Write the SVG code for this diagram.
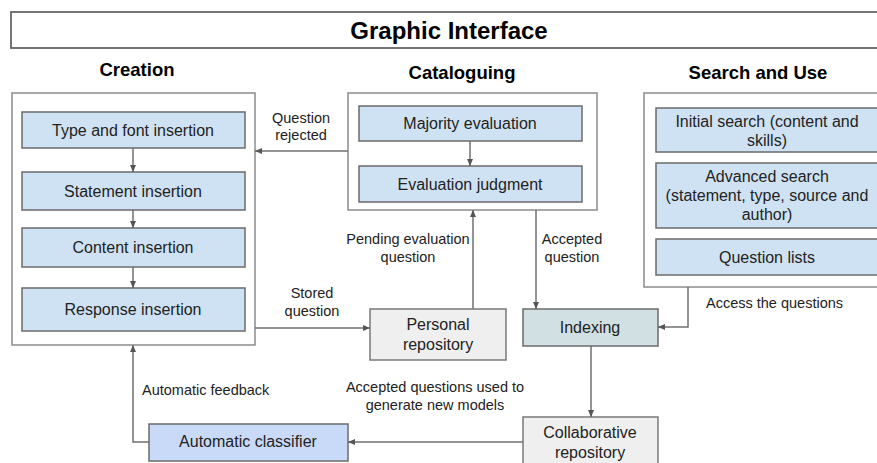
<svg xmlns="http://www.w3.org/2000/svg" width="877" height="463" viewBox="0 0 877 463">
  <style>
    .frame { fill: #ffffff; stroke: #8c8c8c; stroke-width: 1.5; }
    .title-frame { fill: #ffffff; stroke: #666666; stroke-width: 1.8; }
    .step { fill: #cfe2f3; stroke: #6b6b6b; stroke-width: 1.5; }
    .repo { fill: #efefef; stroke: #7a7a7a; stroke-width: 1.5; }
    .index { fill: #d0e0e3; stroke: #6b6b6b; stroke-width: 1.5; }
    .classifier { fill: #c9daf8; stroke: #6b6b6b; stroke-width: 1.5; }
    text { font-family: "Liberation Sans", Arial, sans-serif; fill: #222222; }
    .title { font-size: 24px; font-weight: bold; text-anchor: middle; fill: #000000; }
    .heading { font-size: 18.5px; font-weight: bold; text-anchor: middle; fill: #000000; }
    .node-text { font-size: 16px; text-anchor: middle; }
    .label { font-size: 14.5px; text-anchor: middle; }
    .label-start { font-size: 14.5px; text-anchor: start; }
    .conn { fill: none; stroke: #707070; stroke-width: 1.5; marker-end: url(#arrow); }
  </style>
  <defs>
    <marker id="arrow" markerUnits="userSpaceOnUse" markerWidth="8" markerHeight="8" viewBox="0 0 8 8" refX="7" refY="4" orient="auto">
      <path d="M0,1 L7,4 L0,7 z" fill="#555555"/>
    </marker>
  </defs>

  <!-- header bar -->
  <g id="graphic-interface">
    <rect class="title-frame" x="11" y="12" width="900" height="36"/>
    <text class="title" x="449" y="39">Graphic Interface</text>
  </g>

  <!-- section headings -->
  <text class="heading" x="137" y="76">Creation</text>
  <text class="heading" x="462" y="79">Cataloguing</text>
  <text class="heading" x="758" y="79">Search and Use</text>

  <!-- Creation section -->
  <g id="creation">
    <rect class="frame" x="12" y="93" width="243" height="252"/>
    <g id="type-font-insertion">
      <rect class="step" x="22" y="112" width="223" height="36"/>
      <text class="node-text" x="133" y="136">Type and font insertion</text>
    </g>
    <g id="statement-insertion">
      <rect class="step" x="22" y="172" width="223" height="38"/>
      <text class="node-text" x="133" y="197">Statement insertion</text>
    </g>
    <g id="content-insertion">
      <rect class="step" x="22" y="228" width="223" height="39"/>
      <text class="node-text" x="133" y="253">Content insertion</text>
    </g>
    <g id="response-insertion">
      <rect class="step" x="22" y="288" width="223" height="43"/>
      <text class="node-text" x="133" y="315">Response insertion</text>
    </g>
  </g>

  <!-- Cataloguing section -->
  <g id="cataloguing">
    <rect class="frame" x="348" y="93" width="249" height="117"/>
    <g id="majority-evaluation">
      <rect class="step" x="359" y="106" width="223" height="35"/>
      <text class="node-text" x="470" y="129">Majority evaluation</text>
    </g>
    <g id="evaluation-judgment">
      <rect class="step" x="359" y="166" width="223" height="36"/>
      <text class="node-text" x="470" y="190">Evaluation judgment</text>
    </g>
  </g>

  <!-- Search and Use section -->
  <g id="search-and-use">
    <rect class="frame" x="644" y="93" width="250" height="194"/>
    <g id="initial-search">
      <rect class="step" x="656" y="108" width="224" height="44"/>
      <text class="node-text" x="767" y="127">Initial search (content and</text>
      <text class="node-text" x="767" y="146">skills)</text>
    </g>
    <g id="advanced-search">
      <rect class="step" x="656" y="163" width="224" height="65"/>
      <text class="node-text" x="767" y="182">Advanced search</text>
      <text class="node-text" x="767" y="201">(statement, type, source and</text>
      <text class="node-text" x="767" y="220">author)</text>
    </g>
    <g id="question-lists">
      <rect class="step" x="656" y="239" width="224" height="36"/>
      <text class="node-text" x="767" y="263">Question lists</text>
    </g>
  </g>

  <!-- repositories and processing -->
  <g id="personal-repository">
    <rect class="repo" x="370" y="309" width="136" height="51"/>
    <text class="node-text" x="438" y="330">Personal</text>
    <text class="node-text" x="438" y="350">repository</text>
  </g>
  <g id="indexing">
    <rect class="index" x="523" y="309" width="135" height="37"/>
    <text class="node-text" x="590" y="333">Indexing</text>
  </g>
  <g id="collaborative-repository">
    <rect class="repo" x="523" y="417" width="135" height="56"/>
    <text class="node-text" x="590" y="438">Collaborative</text>
    <text class="node-text" x="590" y="458">repository</text>
  </g>
  <g id="automatic-classifier">
    <rect class="classifier" x="149" y="424" width="199" height="37"/>
    <text class="node-text" x="248" y="447">Automatic classifier</text>
  </g>

  <!-- connectors -->
  <g id="connectors">
    <path class="conn" d="M133,148 L133,172"/>
    <path class="conn" d="M133,210 L133,228"/>
    <path class="conn" d="M133,267 L133,288"/>
    <path class="conn" d="M470,141 L470,166"/>
    <path class="conn" d="M348,151 L255,151"/>
    <path class="conn" d="M255,328 L370,328"/>
    <path class="conn" d="M473,309 L473,210"/>
    <path class="conn" d="M536,210 L536,309"/>
    <path class="conn" d="M688,287 L688,327 L658,327"/>
    <path class="conn" d="M591,346 L591,417"/>
    <path class="conn" d="M523,442 L348,442"/>
    <path class="conn" d="M149,442 L133,442 L133,345"/>
  </g>

  <!-- connector labels -->
  <g id="labels">
    <text class="label" x="301" y="123">Question</text>
    <text class="label" x="301" y="140">rejected</text>
    <text class="label" x="312" y="298">Stored</text>
    <text class="label" x="312" y="316">question</text>
    <text class="label" x="408" y="244">Pending evaluation</text>
    <text class="label" x="408" y="262">question</text>
    <text class="label" x="572" y="244">Accepted</text>
    <text class="label" x="572" y="262">question</text>
    <text class="label-start" x="706" y="308">Access the questions</text>
    <text class="label-start" x="142" y="395">Automatic feedback</text>
    <text class="label" x="435" y="392">Accepted questions used to</text>
    <text class="label" x="435" y="410">generate new models</text>
  </g>
</svg>
